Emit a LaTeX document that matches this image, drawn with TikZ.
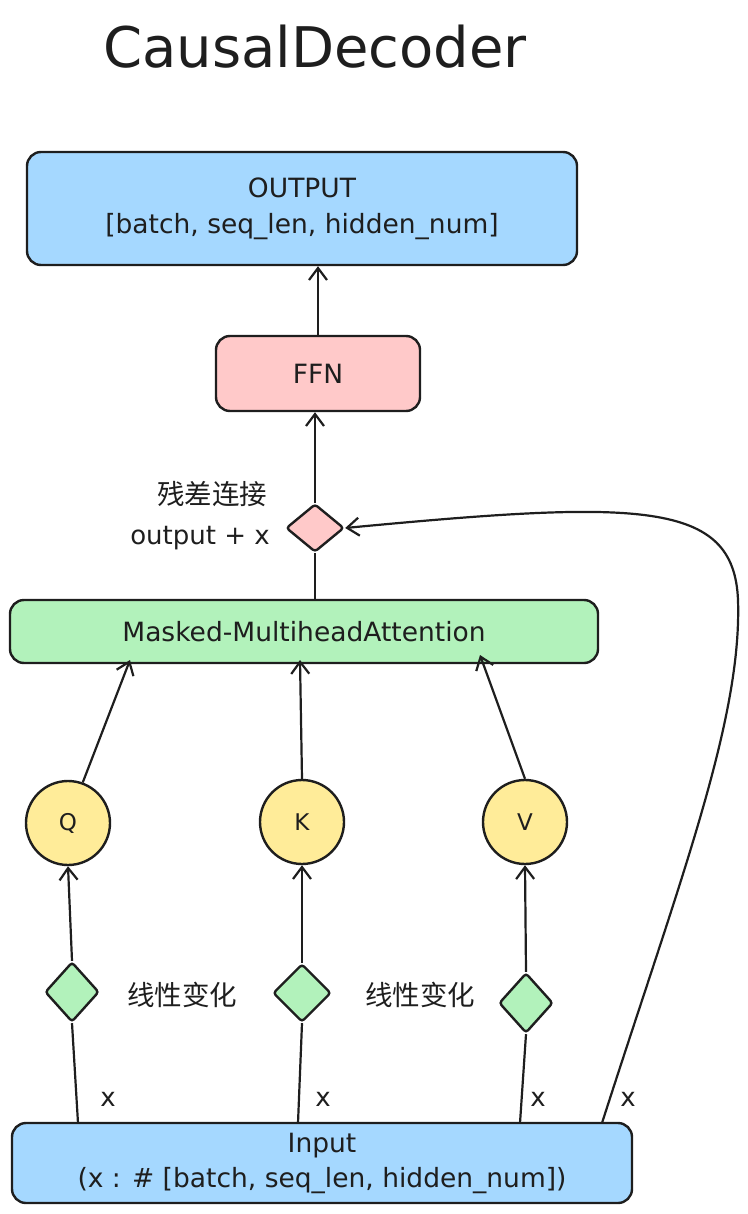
\documentclass[tikz,border=0pt]{standalone}
\usepackage{fontspec}
\setmainfont{DejaVu Sans}
\newfontfamily\cjk{Noto Sans CJK SC}
\usetikzlibrary{arrows.meta,shapes.geometric}
\definecolor{cblue}{HTML}{A5D8FF}
\definecolor{cpink}{HTML}{FFC9C9}
\definecolor{cgreen}{HTML}{B2F2BB}
\definecolor{cyellow}{HTML}{FFEC99}
\definecolor{ink}{HTML}{1E1E1E}
\tikzset{
  box/.style={draw=ink,line width=2.4pt,rounded corners=14pt,inner sep=0pt,align=center,font=\fontsize{26.5}{36}\selectfont,text=ink},
  dia/.style={draw=ink,line width=2.4pt,diamond,inner sep=0pt,rounded corners=3pt},
  circ/.style={draw=ink,line width=2.4pt,circle,fill=cyellow,minimum size=84pt,inner sep=0pt,font=\fontsize{23}{24}\selectfont,text=ink},
  conn/.style={draw=ink,line width=2.2pt},
  arr/.style={conn,-{Straight Barb[length=12pt,width=18pt,line width=2.2pt]}},
  lbl/.style={font=\fontsize{26}{28}\selectfont,text=ink},
  clbl/.style={font=\cjk\fontsize{27.5}{30}\selectfont,text=ink},
}
\begin{document}
\begin{tikzpicture}[x=1pt,y=-1pt]
\useasboundingbox (0,0) rectangle (747,1214);
\node[font=\fontsize{56}{60}\selectfont,text=ink] (title) at (315,47) {CausalDecoder};
\node[box,fill=cblue,minimum width=550pt,minimum height=113pt] (out) at (302,208.5) {OUTPUT\\{}[batch, seq\_len, hidden\_num]};
\node[box,fill=cpink,minimum width=204pt,minimum height=75pt] (ffn) at (318,373.5) {FFN};
\node[dia,fill=cpink,minimum width=58pt,minimum height=48pt] (res) at (315,528) {};
\node[box,fill=cgreen,minimum width=588pt,minimum height=63pt] (mha) at (304,631.5) {Masked-MultiheadAttention};
\node[circ] (q) at (68,823) {Q};
\node[circ] (k) at (302,822) {K};
\node[circ] (v) at (525,822) {V};
\node[dia,fill=cgreen,minimum width=54pt,minimum height=60pt] (d1) at (72,992) {};
\node[dia,fill=cgreen,minimum width=58pt,minimum height=58pt] (d2) at (302,993) {};
\node[dia,fill=cgreen,minimum width=54pt,minimum height=60pt] (d3) at (526,1003) {};
\node[box,fill=cblue,minimum width=620pt,minimum height=80pt,font=\fontsize{26.5}{35}\selectfont] (in) at (322,1163) {Input\\(x : \# [batch, seq\_len, hidden\_num])};
\node[clbl] (l1) at (212,494) {残差连接};
\node[lbl] (l2) at (200,538) {output + x};
\node[clbl] (l3) at (182,995) {线性变化};
\node[clbl] (l4) at (420,995) {线性变化};
\node[lbl] (x1) at (108,1099) {x};
\node[lbl] (x2) at (323,1099) {x};
\node[lbl] (x3) at (538,1099) {x};
\node[lbl] (x4) at (628,1099) {x};
% connectors
\draw[arr] (ffn.north) -- (ffn.north |- out.south);
\draw[arr] (res.north) -- (res.north |- ffn.south);
\draw[conn] (mha.north -| res.south) -- (res.south);
\coordinate (mq) at (130,660);
\coordinate (mk) at (300,660);
\coordinate (mv) at (480,655);
\draw[arr] (q.70) -- (mq);
\draw[arr] (k.north) -- (mk);
\draw[arr] (v.north) -- (mv);
\draw[arr] (d1.north) -- (q.south);
\draw[arr] (d2.north) -- (k.south);
\draw[arr] (d3.north) -- (v.south);
\coordinate (i1) at (78,1123);
\coordinate (i2) at (298,1123);
\coordinate (i3) at (520,1123);
\coordinate (i4) at (602,1123);
\draw[conn] (i1) -- (d1.south);
\draw[conn] (i2) -- (d2.south);
\draw[conn] (i3) -- (d3.south);
\draw[arr] (i4) .. controls (680,880) and (742,720) .. (738,600) .. controls (734,500) and (640,500) .. (res.east);
\end{tikzpicture}
\end{document}
